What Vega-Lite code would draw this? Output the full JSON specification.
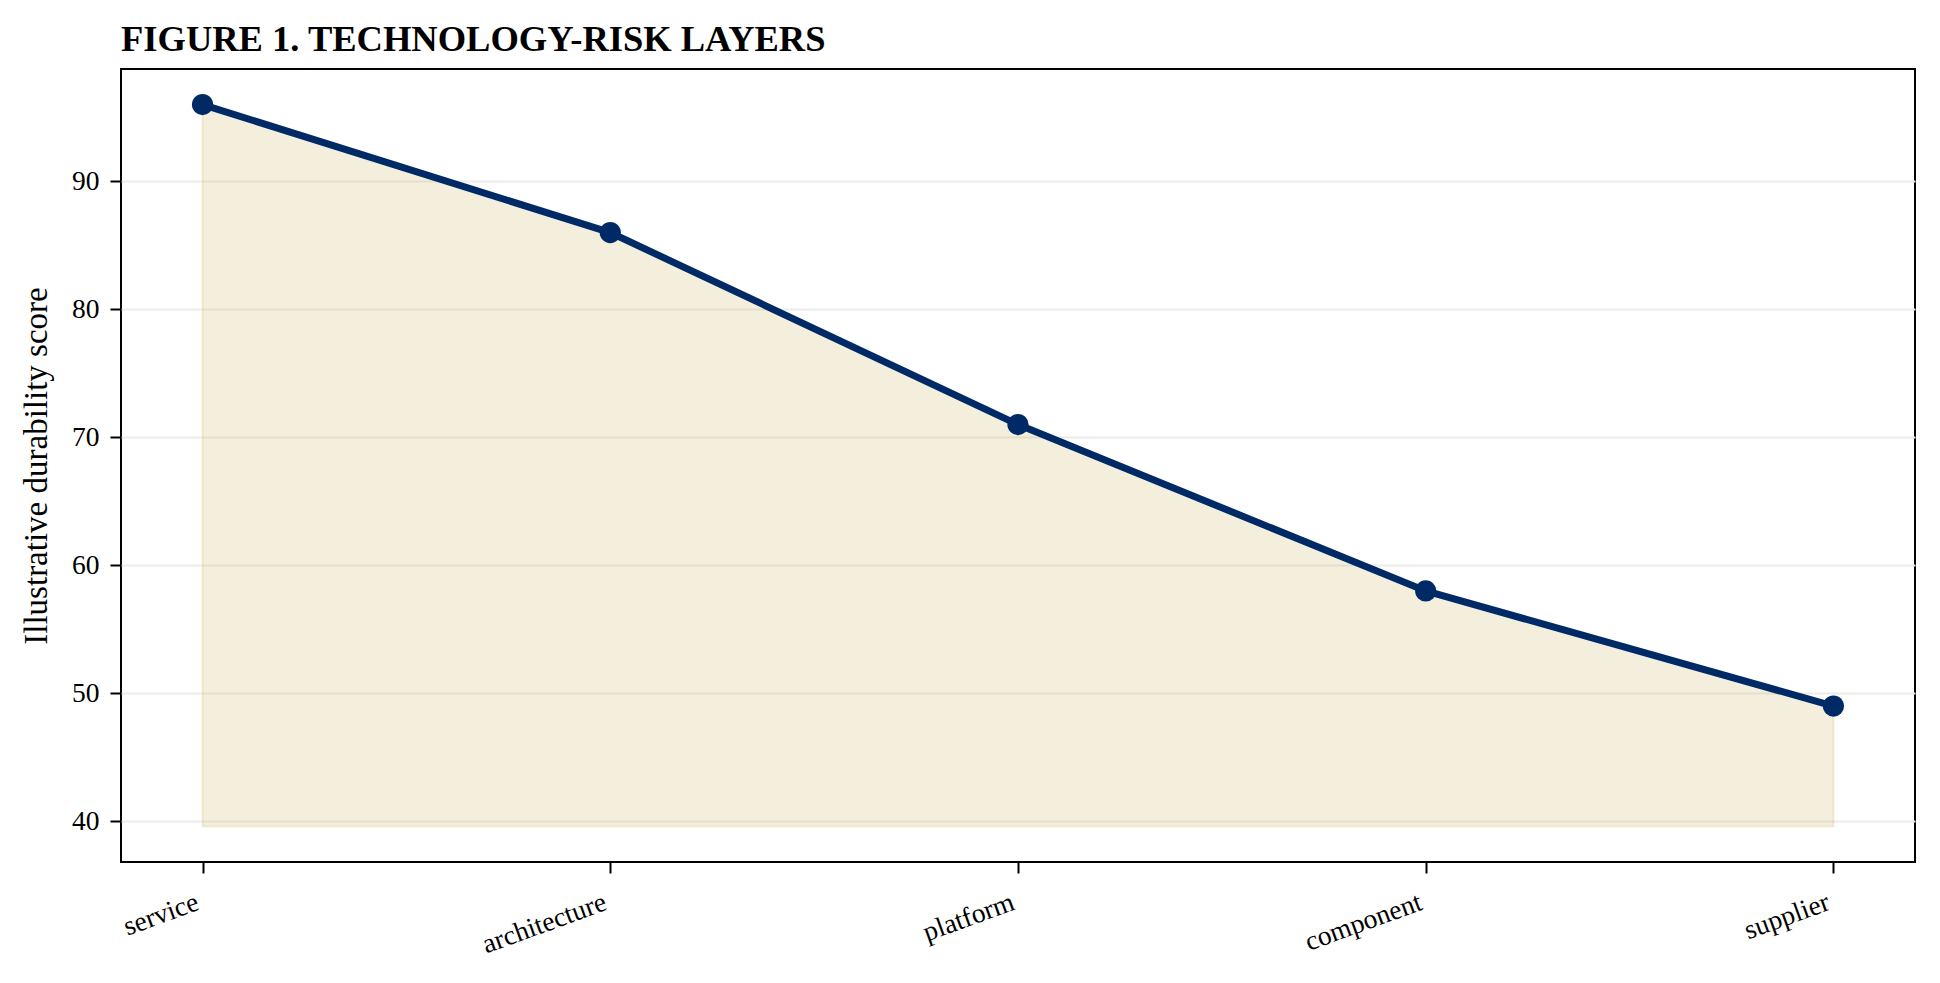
{
  "$schema": "https://vega.github.io/schema/vega-lite/v6.json",
  "description": "Technology-risk layers: illustrative durability score by layer.",
  "background": "white",
  "autosize": {"type": "none"},
  "padding": {"left": 121, "top": 69, "right": 25, "bottom": 121},
  "width": 1794,
  "height": 793,
  "title": {
    "text": "FIGURE 1. TECHNOLOGY-RISK LAYERS",
    "anchor": "start",
    "frame": "group",
    "font": "Liberation Serif",
    "fontSize": 36.5,
    "fontWeight": "bold",
    "color": "black",
    "offset": 11
  },
  "config": {
    "view": {"stroke": "black", "strokeWidth": 2},
    "axis": {
      "labelFont": "Liberation Serif",
      "titleFont": "Liberation Serif",
      "labelFontSize": 27.5,
      "titleFontSize": 33,
      "labelColor": "black",
      "titleColor": "black",
      "titleFontWeight": "normal",
      "tickColor": "black",
      "tickSize": 11,
      "tickWidth": 2,
      "domain": false
    }
  },
  "data": {
    "values": [
      {"layer": "service", "score": 96},
      {"layer": "architecture", "score": 86},
      {"layer": "platform", "score": 71},
      {"layer": "component", "score": 58},
      {"layer": "supplier", "score": 49}
    ]
  },
  "encoding": {
    "x": {
      "field": "layer",
      "type": "ordinal",
      "sort": null,
      "scale": {"type": "point", "padding": 0.2},
      "axis": {
        "title": null,
        "labelAngle": -20,
        "labelAlign": "right",
        "labelBaseline": "top",
        "labelPadding": 15,
        "labelOffset": -10,
        "grid": false
      }
    },
    "y": {
      "field": "score",
      "type": "quantitative",
      "scale": {"domain": [36.82, 98.78], "nice": false, "zero": false},
      "axis": {
        "title": "Illustrative durability score",
        "values": [40, 50, 60, 70, 80, 90],
        "labelPadding": 11,
        "titlePadding": 18,
        "grid": true,
        "gridColor": "#ebebeb",
        "gridWidth": 2
      }
    }
  },
  "layer": [
    {
      "mark": {
        "type": "area",
        "color": "#c8a856",
        "fillOpacity": 0.2,
        "stroke": "#c8a856",
        "strokeOpacity": 0.2,
        "strokeWidth": 2
      },
      "encoding": {"y2": {"datum": 39.6}}
    },
    {
      "mark": {"type": "line", "color": "#002a66", "strokeWidth": 7},
      "encoding": {}
    },
    {
      "mark": {"type": "point", "filled": true, "color": "#002a66", "opacity": 1, "size": 450},
      "encoding": {}
    }
  ]
}
